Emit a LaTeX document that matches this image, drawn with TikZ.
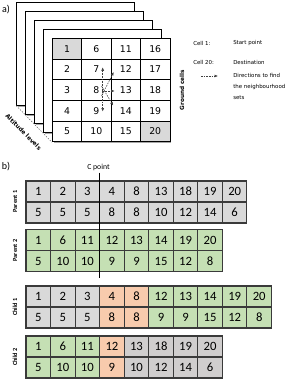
\documentclass[tikz,border=0pt]{standalone}
\usepackage{fontspec}
\setmainfont{Carlito}
\newfontfamily\dvs{DejaVu Sans}
\usetikzlibrary{arrows.meta}
\definecolor{cgray}{HTML}{D9D9D9}
\definecolor{cgrayb}{HTML}{D0CECE}
\definecolor{cgreen}{HTML}{C5E0B4}
\definecolor{corange}{HTML}{F8CBAD}
\definecolor{cedge}{HTML}{3A3A3A}
\definecolor{cshadow}{HTML}{A6A6A6}
\begin{document}
\begin{tikzpicture}[x=0.75pt,y=-0.75pt,
  acell/.style={draw=black, line width=0.6pt, minimum width=22.05pt, minimum height=15.525pt, inner sep=0pt, font=\dvs\fontsize{7}{8}\selectfont},
  bcell/.style={draw=cedge, line width=0.8pt, minimum width=18.41pt, minimum height=15.75pt, inner sep=0pt, font=\fontsize{9.5}{11}\selectfont},
  layer/.style={draw=black, fill=white, line width=0.6pt},
  rowlabel/.style={rotate=90, font=\bfseries\fontsize{4.7}{5}\selectfont, inner sep=0pt},
  legtext/.style={anchor=west, inner sep=0pt, font=\dvs\fontsize{4.1}{8.25}\selectfont, align=left},
  dirarrow/.style={draw=black!75, line width=0.4pt, dash pattern=on 1.2pt off 0.8pt, -{Latex[length=2.6pt,width=2.2pt]}},
  panel/.style={inner sep=0pt, font=\fontsize{7.5}{8}\selectfont}
]
\useasboundingbox (0,0) rectangle (300,381);

% ---------- part a ----------
\node[panel] (alabel) at (6,10) {a)};
\foreach \d in {36,27,18,9} {
  \fill[cshadow] ({52.3-\d+1.3},{38.3-\d+1.3}) rectangle ({170-\d+1.3},{141.7-\d+1.3});
  \draw[layer] ({52.3-\d},{38.3-\d}) rectangle ({170-\d},{141.7-\d});
}
\fill[cshadow] (53.6,39.6) rectangle (171.3,143);
\fill[white] (52.3,38.3) rectangle (170,141.7);
\fill[cgray] (52.3,38.3) rectangle (81.7,59);
\fill[cgray] (140.6,121) rectangle (170,141.7);
\foreach \j in {0,...,3} {
  \foreach \i in {0,...,4} {
    \pgfmathtruncatemacro\n{5*\j+\i+1}
    \node[acell] (g\n) at ({52.3+29.4*(\j+0.5)},{38.3+20.7*(\i+0.5)}) {\n};
  }
}
% altitude levels
\coordinate (alt1) at (16.3,105.7);
\draw[black!60, line width=0.4pt, dash pattern=on 1pt off 1pt] (alt1) -- (g5.south west);
\node[rotate=-45, inner sep=0pt, font=\dvs\bfseries\fontsize{4.4}{5}\selectfont] (altlabel) at (23.5,132) {Altitude levels};
% ground cells
\node[rotate=90, inner sep=0pt, font=\dvs\bfseries\fontsize{4.3}{5}\selectfont] (glabel) at (182,90) {Ground cells};
% direction arrows
\coordinate (o) at (102.7,91);
\coordinate (t7) at (102.7,67.3);
\coordinate (t9) at (102.7,111.5);
\coordinate (t12) at (113.7,72);
\coordinate (t13) at (114.7,91);
\coordinate (t14) at (113.2,105.5);
\coordinate (o1) at (101.5,96);
\coordinate (o2) at (101.5,86);
\draw[dirarrow] (o) -- (t7);
\draw[dirarrow] (o) -- (t9);
\draw[dirarrow] (o1) -- (t12);
\draw[dirarrow] (o) -- (t13);
\draw[dirarrow] (o2) -- (t14);
% legend
\node[legtext] (l1) at (193,43) {Cell 1:};
\node[legtext] (l1b) at (233,43) {Start point};
\node[legtext] (l2) at (193,62) {Cell 20:};
\node[legtext] (l2b) at (233,62) {Destination};
\coordinate (la1) at (201,76);
\coordinate (la2) at (218,76);
\draw[dirarrow] (la1) -- (la2);
\node[legtext, anchor=north west] (l3) at (233,73.5) {Directions to find\\the neighbourhood\\sets};

% ---------- part b ----------
\node[panel] (blabel) at (6,167) {b)};
% Parent 1
\foreach \v [count=\k] in {1,2,3,4,8,13,18,19,20}
  \node[bcell, fill=cgray] (pa\k) at ({26+24.55*(\k-0.5)},191.5) {\v};
\foreach \v [count=\k] in {5,5,5,8,8,10,12,14,6}
  \node[bcell, fill=cgray] (pb\k) at ({26+24.55*(\k-0.5)},212.5) {\v};
% Parent 2
\foreach \v [count=\k] in {1,6,11,12,13,14,19,20}
  \node[bcell, fill=cgreen] (qa\k) at ({26+24.55*(\k-0.5)},240) {\v};
\foreach \v [count=\k] in {5,10,10,9,9,15,12,8}
  \node[bcell, fill=cgreen] (qb\k) at ({26+24.55*(\k-0.5)},261) {\v};
% Child 1
\foreach \v/\c [count=\k] in {1/cgray,2/cgray,3/cgray,4/corange,8/corange,12/cgreen,13/cgreen,14/cgreen,19/cgreen,20/cgreen}
  \node[bcell, fill=\c] (ca\k) at ({26+24.55*(\k-0.5)},296.5) {\v};
\foreach \v/\c [count=\k] in {5/cgray,5/cgray,5/cgray,8/corange,8/corange,9/cgreen,9/cgreen,15/cgreen,12/cgreen,8/cgreen}
  \node[bcell, fill=\c] (cb\k) at ({26+24.55*(\k-0.5)},317.5) {\v};
% Child 2
\foreach \v/\c [count=\k] in {1/cgreen,6/cgreen,11/cgreen,12/corange,13/cgrayb,18/cgrayb,19/cgrayb,20/cgrayb}
  \node[bcell, fill=\c] (da\k) at ({26+24.55*(\k-0.5)},346.5) {\v};
\foreach \v/\c [count=\k] in {5/cgreen,10/cgreen,10/cgreen,9/corange,10/cgrayb,12/cgrayb,14/cgrayb,6/cgrayb}
  \node[bcell, fill=\c] (db\k) at ({26+24.55*(\k-0.5)},367.5) {\v};
% row labels
\node[rowlabel] (lp1) at (15,201.5) {Parent 1};
\node[rowlabel] (lp2) at (15,250.5) {Parent 2};
\node[rowlabel] (lc1) at (15,307) {Child 1};
\node[rowlabel] (lc2) at (15,357) {Child 2};
% C point
\node[inner sep=0pt, font=\fontsize{5.8}{6}\selectfont] (cpl) at (98.5,167.5) {C point};
\coordinate (cbot) at (99.4,278);
\coordinate (ctop) at (99.4,172.5);
\draw[line width=1.2pt, black] (ctop) -- (cbot);
\end{tikzpicture}
\end{document}
